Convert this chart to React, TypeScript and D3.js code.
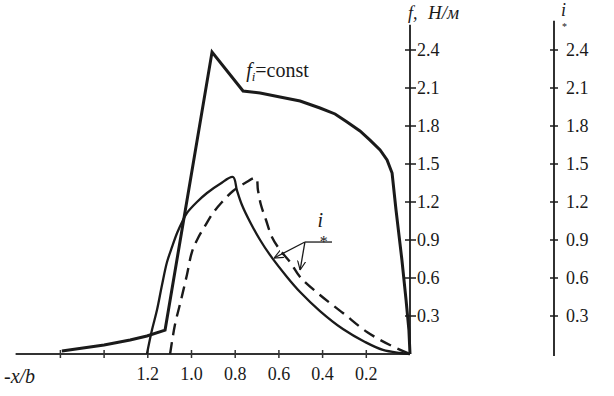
import { useEffect, useRef } from "react";
import { curveCatmullRom, curveLinear, line, scaleLinear, select } from "d3";

// x is -x/b (grows to the left), y is f or i*
const xTicks = [1.6, 1.4, 1.2, 1.0, 0.8, 0.6, 0.4, 0.2];
const xTickLabels = ["", "", "1.2", "1.0", "0.8", "0.6", "0.4", "0.2"];
const yTicks = [0.3, 0.6, 0.9, 1.2, 1.5, 1.8, 2.1, 2.4];
const yTickLabels = ["0.3", "0.6", "0.9", "1.2", "1.5", "1.8", "2.1", "2.4"];

// f, fi = const (thick solid)
const fX = [1.593, 1.4, 1.281, 1.204, 1.121, 0.906, 0.764, 0.686, 0.595, 0.503, 0.412, 0.343, 0.288, 0.229, 0.183, 0.137, 0.105, 0.082, 0.064, 0.037, 0.018, 0.005, 0];
const fY = [0.024, 0.071, 0.111, 0.142, 0.189, 2.384, 2.076, 2.06, 2.029, 1.997, 1.942, 1.895, 1.832, 1.761, 1.689, 1.611, 1.532, 1.429, 1.137, 0.742, 0.426, 0.189, 0];

// i* solid
const iSolidX = [1.204, 1.181, 1.158, 1.135, 1.112, 1.089, 1.066, 1.043, 1.021, 0.975, 0.929, 0.87, 0.81, 0.792, 0.769, 0.732, 0.686, 0.641, 0.563, 0.503, 0.412, 0.307, 0.206, 0.124, 0.046, 0];
const iSolidY = [0, 0.189, 0.347, 0.545, 0.726, 0.845, 0.955, 1.042, 1.113, 1.2, 1.271, 1.342, 1.397, 1.292, 1.176, 1.042, 0.9, 0.782, 0.608, 0.489, 0.339, 0.197, 0.095, 0.032, 0.008, 0];

// i* dashed
const iDashX = [1.098, 1.076, 1.048, 1.021, 0.998, 0.97, 0.938, 0.902, 0.86, 0.81, 0.755, 0.705, 0.696, 0.682, 0.659, 0.632, 0.595, 0.549, 0.503, 0.412, 0.307, 0.197, 0.092, 0];
const iDashY = [0, 0.229, 0.426, 0.624, 0.805, 0.916, 1.011, 1.113, 1.2, 1.287, 1.35, 1.389, 1.295, 1.176, 1.058, 0.924, 0.821, 0.726, 0.608, 0.466, 0.324, 0.174, 0.071, 0];

const W = 614;
const H = 396;
const serif = "Liberation Serif";

export default function App() {
  const ref = useRef<SVGSVGElement>(null);

  useEffect(() => {
    if (!ref.current) return;
    const svg = select(ref.current);
    svg.selectAll("*").remove();

    const x = scaleLinear().domain([0, 1.8]).range([410, 410 - 1.8 * 218.5]);
    const y = scaleLinear().domain([0, 2.4]).range([354, 50]);
    const rightX = 554;
    const ink = "#1a1a1a";

    const txt = (px: number, py: number, s: string, size: number, italic = false) =>
      svg.append("text")
        .attr("x", px).attr("y", py)
        .style("font-family", serif)
        .style("font-size", `${size}px`)
        .style("font-style", italic ? "italic" : "normal")
        .attr("fill", ink)
        .text(s);

    const defs = svg.append("defs");
    defs
      .append("marker")
      .attr("id", "arr")
      .attr("viewBox", "0 0 10 10")
      .attr("refX", 10)
      .attr("refY", 5)
      .attr("markerWidth", 9)
      .attr("markerHeight", 9)
      .attr("markerUnits", "userSpaceOnUse")
      .attr("orient", "auto")
      .append("path")
      .attr("d", "M0,0.5 L10,5 L0,9.5")
      .attr("fill", "none")
      .attr("stroke", ink)
      .attr("stroke-width", 1.3);

    // x axis
    svg.append("line")
      .attr("x1", x(1.805)).attr("x2", x(0))
      .attr("y1", y(0)).attr("y2", y(0))
      .attr("stroke", "#333").attr("stroke-width", 1.8);
    xTicks.forEach((t, k) => {
      svg.append("line")
        .attr("x1", x(t)).attr("x2", x(t))
        .attr("y1", y(0) - 4).attr("y2", y(0) + 4)
        .attr("stroke", "#333").attr("stroke-width", 1.5);
      if (xTickLabels[k])
        txt(x(t), 380, xTickLabels[k], 18).attr("text-anchor", "middle");
    });
    txt(4, 383, "-x/b", 20, true);

    // left axis (f)
    svg.append("line")
      .attr("x1", x(0)).attr("x2", x(0))
      .attr("y1", y(2.6)).attr("y2", y(0))
      .attr("stroke", ink).attr("stroke-width", 1.8);
    // right axis (i*)
    svg.append("line")
      .attr("x1", rightX).attr("x2", rightX)
      .attr("y1", y(2.63)).attr("y2", y(0) + 2)
      .attr("stroke", ink).attr("stroke-width", 1.8);
    yTicks.forEach((t, k) => {
      svg.append("line")
        .attr("x1", x(0) - 5).attr("x2", x(0) + 6)
        .attr("y1", y(t)).attr("y2", y(t))
        .attr("stroke", ink).attr("stroke-width", 1.5);
      txt(x(0) + 7, y(t), yTickLabels[k], 18).attr("dy", "0.36em");
      svg.append("line")
        .attr("x1", rightX - 4).attr("x2", rightX + 4)
        .attr("y1", y(t)).attr("y2", y(t))
        .attr("stroke", ink).attr("stroke-width", 1.5);
      txt(rightX + 12, y(t), yTickLabels[k], 18).attr("dy", "0.36em");
    });

    // axis titles
    txt(x(0) - 2, 19, "f,", 18, true);
    txt(x(0) + 18, 19, "H/м", 19, true);
    txt(rightX + 7, 16, "i", 18, true);
    txt(rightX + 8, 30, "*", 10);

    const draw = (xs: number[], ys: number[], width: number, smooth: boolean, dash?: string) => {
      const gen = line<number>()
        .x((d) => x(d))
        .y((_, k) => y(ys[k]))
        .curve(smooth ? curveCatmullRom.alpha(0.5) : curveLinear);
      const p = svg.append("path")
        .attr("d", gen(xs))
        .attr("fill", "none")
        .attr("stroke", ink)
        .attr("stroke-width", width)
        .attr("stroke-linejoin", "miter")
        .attr("stroke-linecap", "butt");
      if (dash) p.attr("stroke-dasharray", dash);
    };

    draw(iDashX, iDashY, 2.4, true, "12,7");
    draw(iSolidX, iSolidY, 2.3, true);
    draw(fX, fY, 3, false);

    // fi = const label
    const lab = txt(x(0.75), 77, "", 20);
    lab.append("tspan").style("font-style", "italic").text("f");
    lab.append("tspan").style("font-style", "italic").style("font-size", "13px").attr("dy", 4).text("i");
    lab.append("tspan").attr("dy", -4).text("=const");

    // i* pointer
    const px0 = x(0.481);
    const py0 = y(0.884);
    txt(x(0.423), 227, "i", 20, true);
    txt(x(0.413), 247, "*", 16);
    svg.append("line")
      .attr("x1", px0).attr("x2", x(0.357))
      .attr("y1", py0).attr("y2", py0)
      .attr("stroke", ink).attr("stroke-width", 1.3);
    svg.append("line")
      .attr("x1", px0).attr("y1", py0)
      .attr("x2", x(0.622)).attr("y2", y(0.758))
      .attr("stroke", ink).attr("stroke-width", 1.3)
      .attr("marker-end", "url(#arr)");
    svg.append("line")
      .attr("x1", px0).attr("y1", py0)
      .attr("x2", x(0.503)).attr("y2", y(0.663))
      .attr("stroke", ink).attr("stroke-width", 1.3)
      .attr("marker-end", "url(#arr)");
  }, []);

  return (
    <svg
      ref={ref}
      width={W}
      height={H}
      style={{ position: "absolute", left: 0, top: 0, background: "#fff" }}
    />
  );
}
